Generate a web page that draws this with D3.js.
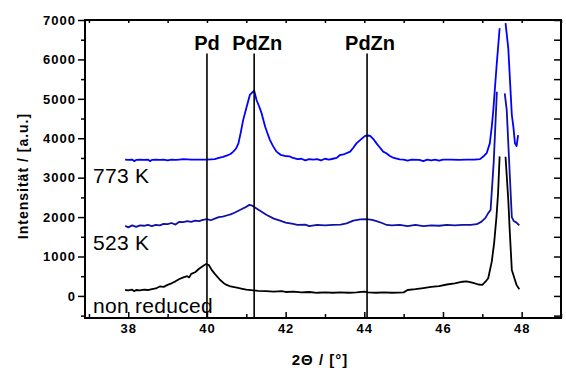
<!DOCTYPE html>
<html>
<head>
<meta charset="utf-8">
<script src="https://cdn.jsdelivr.net/npm/d3@7"></script>
<style>
  body { margin: 0; background: #fff; }
  svg { display: block; font-family: "Liberation Sans", Arial, sans-serif; }
  .tick text { font-size: 13px; font-weight: bold; letter-spacing: 1px; fill: #000; }
  .domain { display: none; }
  .tick line { stroke: #000; stroke-width: 1.5px; }
</style>
</head>
<body>
<div class="container"></div>
<script>
// 2theta / intensity pairs, null = gap in the trace
var nonReduced = [[37.92,150],[38.0,140],[38.1,160],[38.15,120],[38.2,150],[38.3,140],[38.4,160],[38.5,150],[38.6,170],[38.7,190],[38.8,240],[38.9,230],[39.0,280],[39.1,320],[39.2,370],[39.3,430],[39.4,470],[39.5,500],[39.55,470],[39.6,560],[39.7,600],[39.8,690],[39.9,760],[39.98,810],[40.05,780],[40.12,660],[40.2,560],[40.33,410],[40.42,330],[40.5,280],[40.6,240],[40.76,210],[40.9,180],[41.0,160],[41.18,140],[41.3,130],[41.5,120],[41.7,110],[41.9,120],[42.0,100],[42.2,110],[42.4,90],[42.6,100],[42.8,80],[43.0,90],[43.2,80],[43.4,90],[43.6,80],[43.8,90],[44.0,110],[44.1,90],[44.3,80],[44.5,90],[44.7,80],[45.0,90],[45.1,150],[45.3,170],[45.5,200],[45.7,230],[45.9,250],[46.1,290],[46.3,320],[46.5,360],[46.6,370],[46.77,330],[46.9,290],[47.0,280],[47.08,360],[47.15,450],[47.24,870],[47.3,1340],[47.36,2010],[47.4,2600],[47.44,3540],[47.5,null],[47.59,3530],[47.66,2430],[47.7,1590],[47.75,660],[47.83,405],[47.87,280],[47.94,170]];

var k523 = [[37.92,1780],[38.0,1740],[38.1,1790],[38.2,1750],[38.3,1790],[38.4,1780],[38.5,1800],[38.6,1770],[38.7,1800],[38.8,1790],[38.9,1830],[39.0,1820],[39.1,1850],[39.2,1810],[39.3,1880],[39.4,1870],[39.5,1900],[39.6,1880],[39.7,1910],[39.8,1900],[39.9,1930],[40.0,1950],[40.1,1920],[40.2,1960],[40.3,2000],[40.4,2010],[40.5,2040],[40.6,2070],[40.7,2110],[40.8,2160],[40.9,2210],[41.0,2260],[41.08,2310],[41.15,2290],[41.26,2220],[41.4,2130],[41.52,2055],[41.7,1960],[41.86,1910],[42.0,1860],[42.19,1825],[42.3,1800],[42.5,1810],[42.6,1770],[42.8,1800],[43.0,1790],[43.2,1800],[43.4,1810],[43.55,1840],[43.72,1910],[43.9,1940],[44.06,1950],[44.2,1930],[44.31,1900],[44.45,1850],[44.57,1800],[44.7,1790],[44.9,1800],[45.1,1770],[45.3,1800],[45.5,1770],[45.7,1790],[45.9,1780],[46.1,1800],[46.3,1790],[46.5,1800],[46.7,1800],[46.86,1820],[46.98,1885],[47.08,1980],[47.15,2100],[47.21,2180],[47.29,3400],[47.37,5180],[47.47,null],[47.57,5140],[47.62,4720],[47.7,3030],[47.75,2000],[47.8,1900],[47.87,1860],[47.94,1790]];

var k773 = [[37.92,3460],[38.0,3450],[38.1,3460],[38.15,3420],[38.2,3450],[38.3,3460],[38.4,3450],[38.5,3460],[38.55,3420],[38.6,3450],[38.7,3460],[38.8,3450],[38.9,3460],[39.0,3440],[39.1,3460],[39.2,3450],[39.3,3460],[39.4,3470],[39.6,3460],[39.8,3460],[40.0,3460],[40.2,3470],[40.3,3500],[40.41,3530],[40.5,3560],[40.6,3600],[40.67,3660],[40.74,3740],[40.8,3870],[40.86,4150],[40.92,4460],[41.01,4800],[41.09,5100],[41.2,5210],[41.26,4970],[41.33,4800],[41.39,4630],[41.48,4290],[41.54,4120],[41.6,3960],[41.68,3800],[41.77,3660],[41.87,3580],[41.98,3550],[42.1,3540],[42.19,3500],[42.3,3470],[42.4,3480],[42.5,3440],[42.6,3470],[42.7,3460],[42.8,3470],[42.9,3440],[43.0,3480],[43.1,3460],[43.2,3480],[43.3,3500],[43.38,3575],[43.5,3600],[43.64,3660],[43.72,3760],[43.8,3870],[43.9,3960],[44.02,4060],[44.1,4070],[44.15,4060],[44.23,3980],[44.31,3870],[44.4,3760],[44.48,3660],[44.56,3620],[44.65,3550],[44.75,3500],[44.9,3465],[45.0,3460],[45.1,3430],[45.2,3460],[45.4,3450],[45.5,3420],[45.6,3460],[45.7,3440],[45.8,3460],[45.9,3430],[46.0,3460],[46.2,3460],[46.4,3450],[46.6,3460],[46.8,3460],[46.94,3470],[47.04,3550],[47.11,3620],[47.19,3870],[47.24,4290],[47.28,4720],[47.36,5800],[47.44,6790],[47.5,null],[47.59,6920],[47.66,6280],[47.75,4590],[47.79,4290],[47.83,3870],[47.87,3800],[47.91,4080]];

var seriesNames = ['non reduced', '523 K', '773 K'];
var peakNames = ['Pd', 'PdZn', 'PdZn'];
var peakPos = [40.0, 41.2, 44.07];
var peakTop = 6150;

var xTicks = [38, 40, 42, 44, 46, 48];
var xMinor = [37, 39, 41, 43, 45, 47, 49];
var yTicks = [0, 1000, 2000, 3000, 4000, 5000, 6000, 7000];
var yMinor = [-500, 500, 1500, 2500, 3500, 4500, 5500, 6500];

const WIDTH = 566;
const HEIGHT = 368;
const LEFT = 85, RIGHT = 561, TOP = 20, BOTTOM = 318;

var svg = d3.select('.container').append('svg')
	.attr('width', WIDTH)
	.attr('height', HEIGHT);

var xScale = d3.scaleLinear().domain([36.9, 49.0]).range([LEFT, RIGHT]);
var yScale = d3.scaleLinear().domain([-560, 7000]).range([BOTTOM, TOP]);

var translate = function(x, y){ return 'translate(' + x + ',' + y + ')'; };

// frame
svg.append('rect')
	.attr('x', LEFT)
	.attr('y', TOP)
	.attr('width', RIGHT - LEFT)
	.attr('height', BOTTOM - TOP)
	.attr('fill', 'none')
	.attr('stroke', '#000')
	.attr('stroke-width', 2);

// curves
var line = d3.line()
	.defined(function(d){ return d[1] !== null; })
	.x(function(d){ return xScale(d[0]); })
	.y(function(d){ return yScale(d[1]); });

var curves = [nonReduced, k523, k773];
var colors = ['#000000', '#1010a8', '#0000ff'];

curves.forEach(function(s, i){
	svg.append('path')
		.attr('d', line(s))
		.attr('fill', 'none')
		.attr('stroke', colors[i])
		.attr('stroke-width', 1.8)
		.attr('stroke-linejoin', 'round');
});

// reflex markers
svg.selectAll('.peak').data(peakPos).enter().append('line')
	.attr('x1', function(d){ return xScale(d); })
	.attr('x2', function(d){ return xScale(d); })
	.attr('y1', yScale(peakTop))
	.attr('y2', BOTTOM)
	.attr('stroke', '#000')
	.attr('stroke-width', 1.6);

svg.selectAll('.peakLabel').data(peakNames).enter().append('text')
	.attr('x', function(d, i){ return xScale(peakPos[i]) + (i ? 3 : 0); })
	.attr('y', 50)
	.attr('text-anchor', 'middle')
	.style('font-size', '20px')
	.style('font-weight', 'bold')
	.text(function(d){ return d; });

// series labels
var labelY = [313, 250, 183];
svg.selectAll('.seriesLabel').data(seriesNames).enter().append('text')
	.attr('x', 93)
	.attr('y', function(d, i){ return labelY[i]; })
	.style('font-size', '21px')
	.style('letter-spacing', '0.3px')
	.text(function(d){ return d; });

// axes
svg.append('g').attr('transform', translate(LEFT, 0))
	.call(d3.axisLeft(yScale).tickValues(yMinor).tickSize(4).tickSizeOuter(0).tickFormat(''));
svg.append('g').attr('transform', translate(LEFT, 0))
	.call(d3.axisLeft(yScale).tickValues(yTicks).tickSize(7).tickSizeOuter(0).tickPadding(2).tickFormat(d3.format('d')));

svg.append('g').attr('transform', translate(RIGHT, 0))
	.call(d3.axisRight(yScale).tickValues(yTicks.concat(yMinor)).tickSize(-7).tickSizeOuter(0).tickFormat(''));

svg.append('g').attr('transform', translate(0, BOTTOM))
	.call(d3.axisBottom(xScale).tickValues(xMinor).tickSize(-4).tickSizeOuter(0).tickFormat(''));
svg.append('g').attr('transform', translate(0, BOTTOM))
	.call(d3.axisBottom(xScale).tickValues(xTicks).tickSize(-6).tickSizeOuter(0).tickPadding(6).tickFormat(d3.format('d')));

svg.append('g').attr('transform', translate(0, TOP))
	.call(d3.axisTop(xScale).tickValues(xTicks.concat(xMinor)).tickSize(-3).tickSizeOuter(0).tickFormat(''));

// axis titles
svg.append('text')
	.attr('x', 320)
	.attr('y', 365)
	.attr('text-anchor', 'middle')
	.style('font-size', '15px')
	.style('font-weight', 'bold')
	.style('letter-spacing', '1px')
	.text('2\u0398 / [\u00b0]');

svg.append('text')
	.attr('transform', translate(28, 176) + ' rotate(-90)')
	.attr('text-anchor', 'middle')
	.style('font-size', '14px')
	.style('font-weight', 'bold')
	.style('letter-spacing', '1px')
	.text('Intensit\u00e4t / [a.u.]');
</script>
</body>
</html>
